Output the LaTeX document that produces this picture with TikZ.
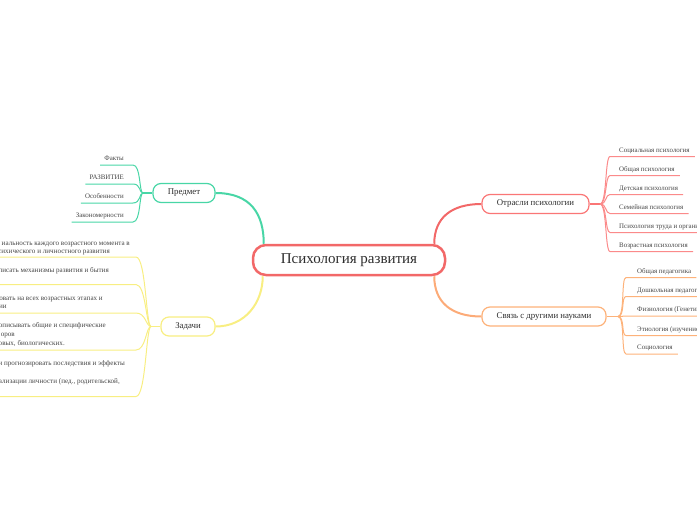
\documentclass[tikz,border=0pt]{standalone}
\usepackage{fontspec}
\setmainfont{Liberation Serif}
\definecolor{cRed}{RGB}{242,104,104}
\definecolor{cTeal}{RGB}{72,214,166}
\definecolor{cYel}{RGB}{248,238,130}
\definecolor{cSal}{RGB}{250,118,118}
\definecolor{cOra}{RGB}{253,178,122}
\definecolor{cTxt}{RGB}{45,45,45}
\definecolor{cLeaf}{RGB}{70,70,70}
\begin{document}
\begin{tikzpicture}[x=1pt,y=-1pt,
  central/.style={draw=cRed, line width=2.5pt, rounded corners=13pt, minimum width=192pt, minimum height=30pt, fill=white, font=\fontsize{15}{17}\selectfont, text=cTxt},
  branch/.style={line width=1.2pt, rounded corners=8pt, minimum height=19pt, fill=white, font=\fontsize{8.8}{10}\selectfont, text=cTxt, inner sep=0pt},
  leafL/.style={font=\fontsize{6.9}{8}\selectfont, text=cLeaf, inner ysep=2.5pt, inner xsep=4pt, text height=5pt, text depth=1.5pt, anchor=south east},
  leafR/.style={font=\fontsize{6.9}{8}\selectfont, text=cLeaf, inner ysep=2.5pt, inner xsep=5pt, text height=5pt, text depth=1.5pt, anchor=south west},
  frag/.style={font=\fontsize{7.1}{8}\selectfont, text=cLeaf, inner sep=0pt, anchor=base east},
  mainlink/.style={line width=2pt},
  leaflink/.style={line width=1pt}]
\useasboundingbox (0,0) rectangle (697,520);
\clip (0,0) rectangle (697,520);

% central and branches
\node[central] (c) at (349,260) {Психология развития};
\node[branch, draw=cTeal, minimum width=62pt] (p) at (184,193) {Предмет};
\node[branch, draw=cYel, minimum width=54pt] (z) at (188,326.5) {Задачи};
\node[branch, draw=cSal, minimum width=107pt] (o) at (535.5,204) {Отрасли психологии};
\node[branch, draw=cOra, minimum width=124pt] (s) at (544,316.5) {Связь с другими науками};

\draw[mainlink, cTeal] (p.east) .. controls +(35,0) and +(0,-30) .. ([xshift=12pt]c.north west);
\draw[mainlink, cYel] (z.east) .. controls +(30,0) and +(0,26) .. ([xshift=11pt]c.south west);
\draw[mainlink, cRed] ([xshift=-12pt]c.north east) .. controls +(0,-26) and +(-30,0) .. (o.west);
\draw[mainlink, cOra!90!cRed] ([xshift=-12pt]c.south east) .. controls +(0,26) and +(-30,0) .. (s.west);

% junctions
\coordinate (jP) at (143,193);
\coordinate (jZ) at (151,326.5);
\coordinate (jO) at (600,204);
\coordinate (jS) at (618,316.5);
\draw[leaflink, cTeal, line width=1.3pt] (p.west) -- (jP);
\draw[leaflink, cYel, line width=1.3pt] (z.west) -- (jZ);
\draw[leaflink, cSal, line width=1.3pt] (o.east) -- (jO);
\draw[leaflink, cOra, line width=1.3pt] (s.east) -- (jS);

% Предмет leaves
\node[leafL] (p1) at (128,165) {Факты};
\node[leafL] (p2) at (128,184) {РАЗВИТИЕ};
\node[leafL] (p3) at (128,203) {Особенности};
\node[leafL] (p4) at (128,222) {Закономерности};
\foreach \n in {p1,p2,p3,p4}
  \draw[leaflink, cTeal] (\n.south west) -- ([xshift=5pt]\n.south east) .. controls +(8,0) and +(-4,0) .. (jP);

% Задачи leaves
\node[frag] (z1a) at (130,245) {иальность каждого возрастного момента в};
\node[frag] (z1b) at (110,253.5) {сихического и личностного развития};
\node[frag] (z2a) at (109,272) {писать механизмы развития и бытия};
\node[frag] (z3a) at (103,300) {овать на всех возрастных этапах и};
\node[frag] (z3b) at (7,308.5) {ии};
\node[frag] (z4a) at (106,327.5) {описывать общие и специфические};
\node[frag] (z4b) at (15,336) {оров};
\node[frag] (z4c) at (65,345) {овых, биологических.};
\node[frag] (z5a) at (125,365) {и прогнозировать последствия и эффекты};
\node[frag] (z5b) at (120,383) {иализации личности (пед., родительской,};
\foreach \i/\y in {1/257,2/284.5,3/313,4/350,5/396.5}{
  \coordinate (zu\i a) at (-3,\y);
  \coordinate (zu\i b) at (136,\y);
  \draw[leaflink, cYel] (zu\i a) -- (zu\i b) .. controls +(10,0) and +(-5,0) .. (jZ);
}

% Отрасли leaves
\node[leafR] (o1) at (614,156.5) {Социальная психология};
\node[leafR] (o2) at (614,175.5) {Общая психология};
\node[leafR] (o3) at (614,194.5) {Детская психология};
\node[leafR] (o4) at (614,213.5) {Семейная психология};
\node[leafR] (o5) at (614,232.5) {Психология труда и организационная психология};
\node[leafR] (o6) at (614,251.5) {Возрастная психология};
\foreach \n in {o1,o2,o3,o4,o5,o6}
  \draw[leaflink, cSal!85] (jO) .. controls +(7,0) and +(-5,0) .. ([xshift=-4pt]\n.south west) -- (\n.south east);

% Связь leaves
\node[leafR] (s1) at (632,277.5) {Общая педагогика};
\node[leafR] (s2) at (632,296.5) {Дошкольная педагогика};
\node[leafR] (s3) at (632,316) {Физиология (Генетика)};
\node[leafR] (s4) at (632,335.5) {Этиология (изучение поведения)};
\node[leafR] (s5) at (632,354) {Социология};
\foreach \n in {s1,s2,s3,s4,s5}
  \draw[leaflink, cOra] (jS) .. controls +(7,0) and +(-5,0) .. ([xshift=-6pt]\n.south west) -- (\n.south east);
\end{tikzpicture}
\end{document}
